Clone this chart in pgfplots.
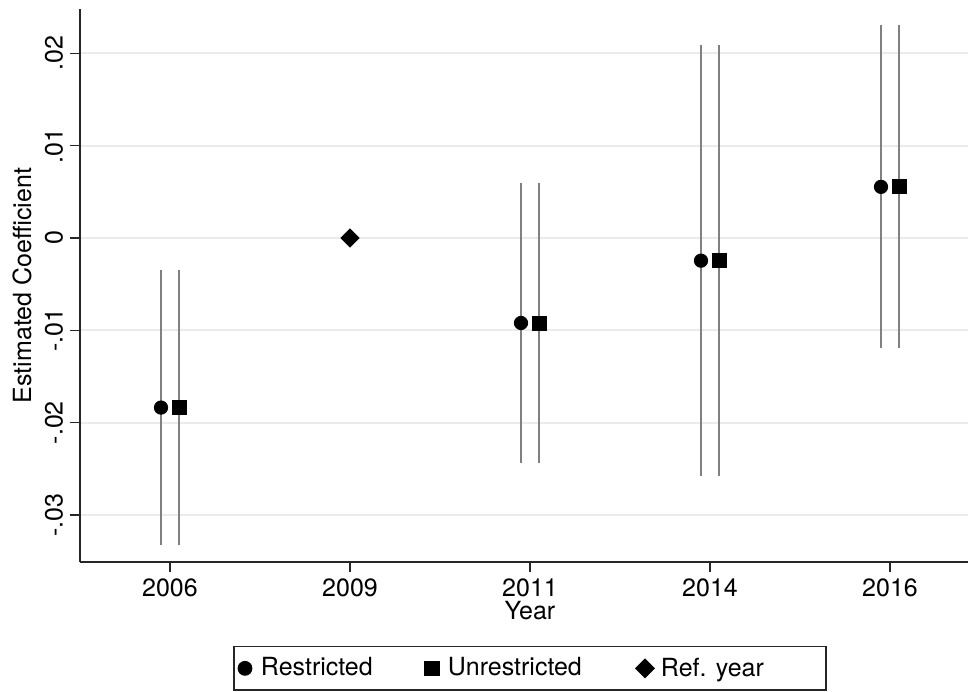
\documentclass[border=0pt]{standalone}
\usepackage{pgfplots}
\pgfplotsset{compat=1.18}
\usepackage{fontspec}
\setmainfont{TeX Gyre Heros}
\newcommand\lf{\fontsize{12.5pt}{15pt}\selectfont}
% legend text with extra depth so the box reaches below the page edge
\newcommand\lentry[2]{\makebox[#1][l]{#2\rule[-5pt]{0pt}{0pt}}}

% Point estimates with half-width of the confidence interval
\pgfplotstableread{
x     y         e
0.95  -0.01836  0.01489
2.95  -0.00920  0.01516
3.95  -0.00245  0.02332
4.95   0.00554  0.01749
}\restricted
\pgfplotstableread{
x     y         e
1.05  -0.01836  0.01489
3.05  -0.00920  0.01516
4.05  -0.00245  0.02332
5.05   0.00554  0.01749
}\unrestricted
\pgfplotstableread{
x  y
2  0
}\refyear

\begin{document}
\begin{tikzpicture}
\begin{axis}[
  scale only axis,
  width=450pt, height=276.5pt,
  xmin=0.5, xmax=5.5,
  ymin=-0.03508, ymax=0.0248,
  axis x line=bottom, axis y line=left,
  axis line style={-, black!85, line width=0.85pt},
  every outer x axis line/.append style={-},
  every outer y axis line/.append style={-},
  tick align=outside,
  major tick length=5pt,
  tick style={black!85, line width=0.75pt},
  xtick={1,2,3,4,5},
  xticklabels={2006,2009,2011,2014,2016},
  ytick={-0.03,-0.02,-0.01,0,0.01,0.02},
  yticklabels={-.03,-.02,-.01,0,.01,.02},
  scaled y ticks=false,
  ymajorgrids,
  major grid style={black!8, line width=1pt},
  ticklabel style={font=\lf},
  xticklabel style={inner ysep=1.5pt, yshift=-1.5pt},
  yticklabel style={rotate=90, anchor=south},
  xlabel={Year}, ylabel={Estimated Coefficient},
  every axis x label/.style={at={(rel axis cs:0.5,0)}, anchor=base,
    yshift=-28.5pt, inner ysep=1pt, font=\lf},
  every axis y label/.style={at={(rel axis cs:0,0.5)}, xshift=-29pt,
    rotate=90, anchor=center, font=\lf},
  legend columns=3,
  legend style={at={(0.5,0)}, anchor=north, yshift=-42pt,
    draw=black!85, line width=0.7pt, font=\lf,
    inner xsep=0.5pt, inner ysep=3pt,
    nodes={inner xsep=3pt, inner ysep=2.5pt}},
  legend image code/.code={
    \path[draw=none, fill=none] (0pt,-1pt) rectangle (10pt,1pt);
    \draw[mark repeat=2, mark phase=2, #1]
      plot coordinates {(0pt,0pt) (5pt,0pt) (10pt,0pt)};},
  clip=false,
]
\coordinate (ll) at (rel axis cs:0,0);

\addplot[only marks, mark=*, mark size=3.35pt, black,
  error bars/.cd, y dir=both, y explicit, error mark=none,
  error bar style={black!50, line width=1.2pt}]
  table[x=x, y=y, y error=e] {\restricted};
\addlegendentry{\lentry{77.5pt}{Restricted}}

\addplot[only marks, mark=square*, mark size=3.5pt, black,
  error bars/.cd, y dir=both, y explicit, error mark=none,
  error bar style={black!50, line width=1.2pt}]
  table[x=x, y=y, y error=e] {\unrestricted};
\addlegendentry{\lentry{90.5pt}{Unrestricted}}

\addplot[only marks, mark=square*, mark size=3.2pt,
  mark options={rotate=45}, black]
  table[x=x, y=y] {\refyear};
\addlegendentry{\lentry{79pt}{Ref. year}}
\end{axis}
\pgfresetboundingbox
\path ([xshift=-40pt, yshift=-64.5pt]ll) rectangle ([xshift=444pt, yshift=281pt]ll);
\end{tikzpicture}
\end{document}
